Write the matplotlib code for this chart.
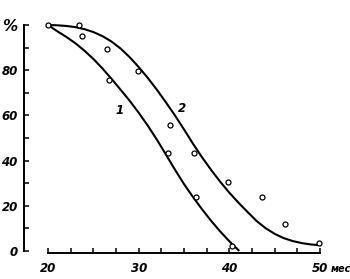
import numpy as np
import matplotlib.pyplot as plt

# measured points (months, %)
meas_x = [20, 23.4, 23.7, 26.5, 26.7, 29.9, 33.4, 33.2, 36.1, 36.3, 39.9, 40.3, 43.6, 46.1, 49.9]
meas_y = [100, 100, 95, 89.4, 75.6, 79.6, 55.8, 43.5, 43.5, 24, 30.7, 2.2, 24, 11.8, 3.4]

# curve 1
c1_x = [20, 21, 22, 23, 24, 25, 26, 27, 28, 29, 30, 31, 32, 33, 34, 35, 36, 37, 38, 39, 40, 41]
c1_y = [100, 97.3, 94.8, 92, 88.7, 85, 80.8, 76.2, 71.4, 66.5, 61.2, 55.5, 49.3, 42.7, 36,
        29.6, 23.8, 18.4, 13.3, 8.6, 4.3, 0.4]

# curve 2
c2_x = [20, 21, 22, 23, 24, 25, 26, 27, 28, 29, 30, 31, 32, 33, 34, 35, 36, 37, 38, 39, 40,
        41, 42, 43, 44, 45, 46, 47, 48, 49, 50]
c2_y = [100, 99.9, 99.6, 99.1, 98.2, 96.9, 95.1, 92.7, 89.6, 85.8, 81.4, 76.6, 71.4, 65.8,
        60, 53.8, 47.4, 41.4, 35.8, 30.6, 25.8, 21.4, 17.3, 13.3, 10.1, 7.6, 5.7, 4.4, 3.5,
        2.9, 2.6]

xticks = [20, 30, 40, 50]
xtick_labels = ['20', '30', '40', '50']
yticks = [0, 20, 40, 60, 80, 100]
ytick_labels = ['0', '20', '40', '60', '80', '%']

font = dict(family='DejaVu Sans', style='italic', weight='bold', size=8.5)

fig = plt.figure(figsize=(3.5, 2.79), dpi=100)
ax = fig.add_axes([0.0686, 0.0921, 0.8977, 0.8505])
ax.set_xlim(17.35, 52)
ax.set_ylim(-1, 104)

ax.plot(c1_x, c1_y, color='black', lw=1.5)
ax.plot(c2_x, c2_y, color='black', lw=1.5)
ax.plot(meas_x, meas_y, 'o', mfc='white', mec='black', ms=3.6, mew=0.9)

ax.text(27.9, 62.4, '1', ha='center', va='center', **font)
ax.text(34.75, 63.1, '2', ha='center', va='center', **font)

# оси
ax.spines['top'].set_visible(False)
ax.spines['right'].set_visible(False)
ax.spines['left'].set_bounds(0, 100)
ax.spines['bottom'].set_bounds(20, 50)
ax.spines['left'].set_linewidth(1.4)
ax.spines['bottom'].set_linewidth(1.4)

ax.set_xticks(xticks)
ax.set_xticklabels(xtick_labels, fontdict=font)
ax.set_xticks(np.arange(22.5, 50, 2.5), minor=True)
ax.set_yticks(yticks)
ax.set_yticklabels(ytick_labels, fontdict=font)
ax.get_yticklabels()[-1].set_fontsize(11)
ax.set_yticks([10, 30, 50, 70, 90], minor=True)
ax.tick_params(which='both', direction='in', length=3.5, width=1.1)
ax.tick_params(axis='y', pad=4.5)
ax.tick_params(axis='x', pad=6)

ax.text(51.15, -9.3, 'мес', ha='left', va='baseline', clip_on=False,
        family='DejaVu Sans', style='italic', weight='bold', size=7)

fig.savefig('out.png', dpi=100)
